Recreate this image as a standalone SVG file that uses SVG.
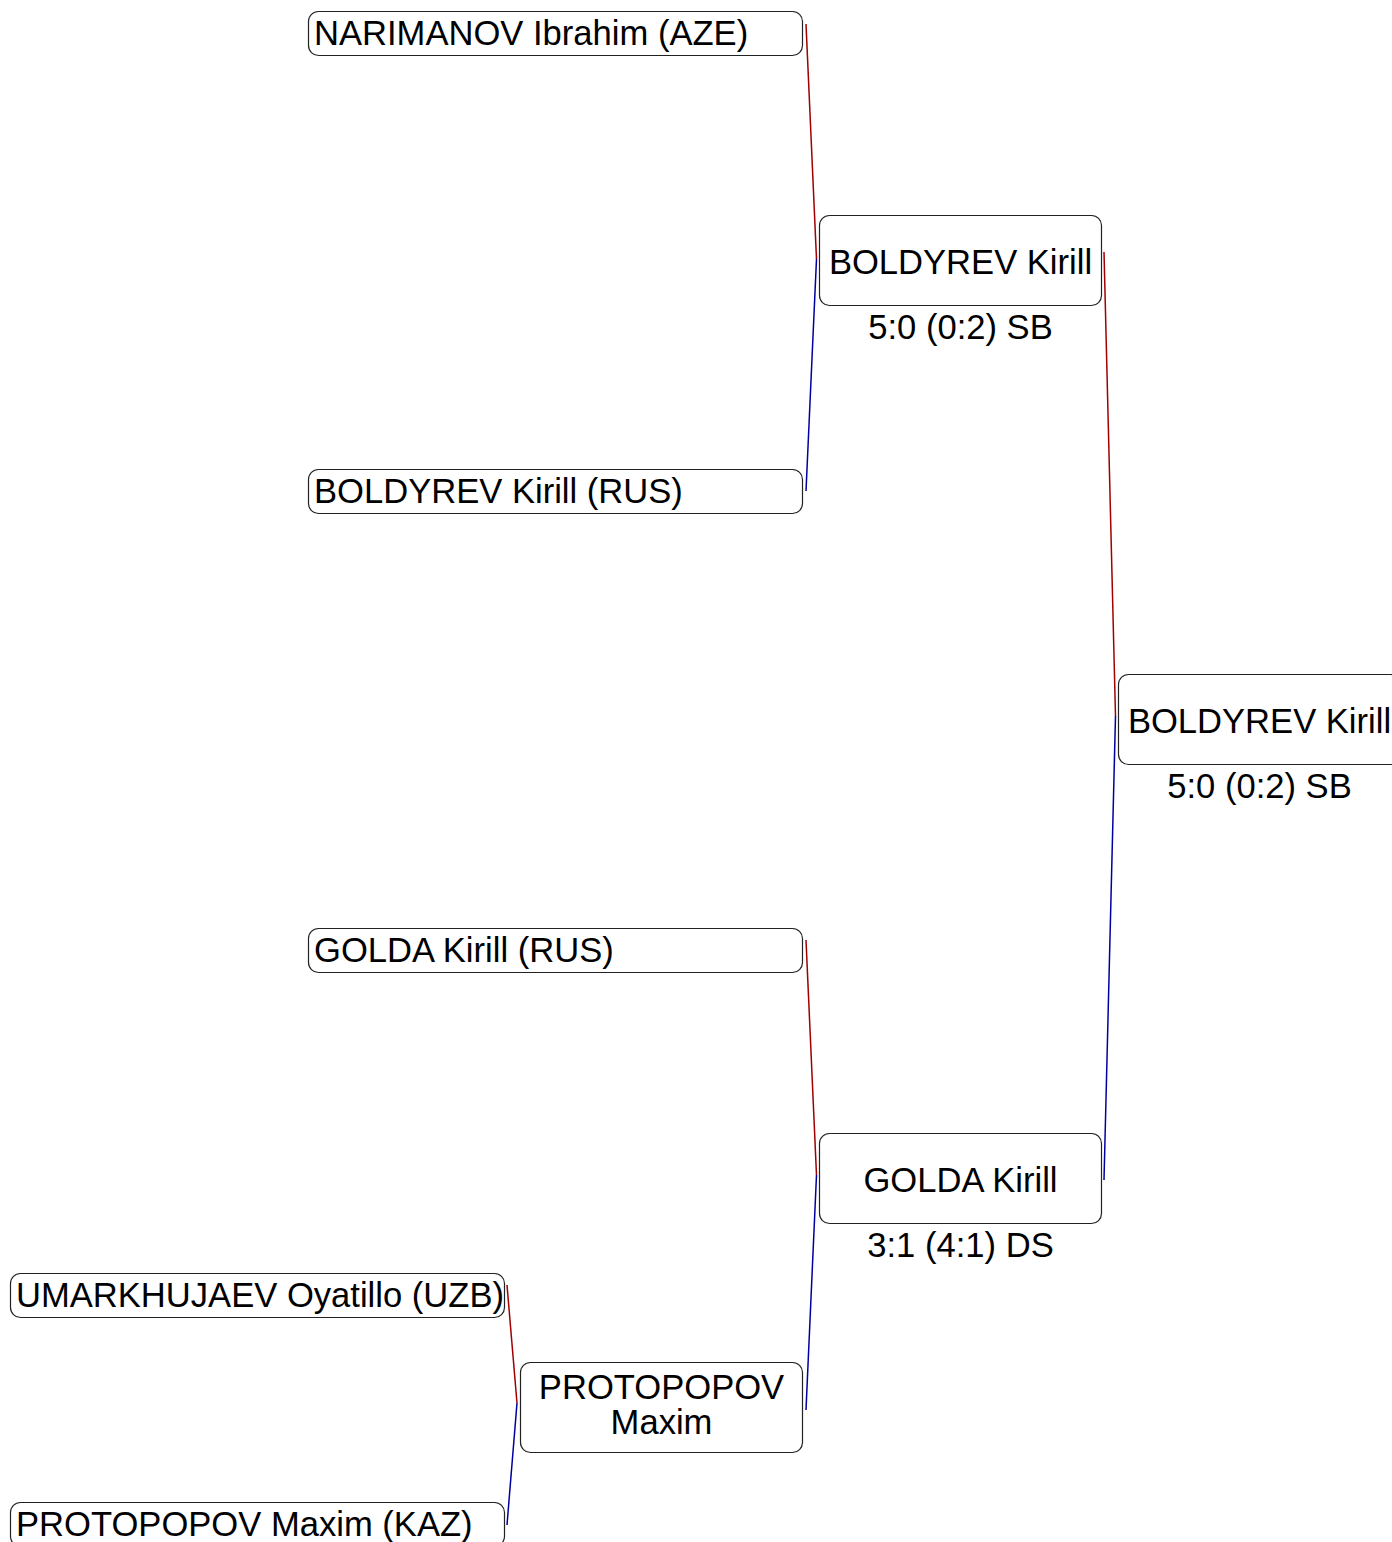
<svg xmlns="http://www.w3.org/2000/svg" width="1392" height="1542" viewBox="0 0 1392 1542">
<style>
.box{fill:#fff;stroke:#222;stroke-width:1.2}
.t{font-family:"Liberation Sans",Arial,sans-serif;font-size:34.6px;fill:#000}
.c{text-anchor:middle}
.red{stroke:#a00000;stroke-width:1.5;fill:none}
.blue{stroke:#0000a0;stroke-width:1.5;fill:none}
</style>
<rect width="1392" height="1542" fill="#fff"/>
<g id="connectors">
<line class="red" x1="806" y1="24" x2="816.5" y2="259"/>
<line class="blue" x1="816.5" y1="259" x2="806" y2="491"/>
<line class="red" x1="806" y1="940" x2="816.5" y2="1175"/>
<line class="blue" x1="816.5" y1="1175" x2="806" y2="1410"/>
<line class="red" x1="507" y1="1285" x2="517" y2="1403"/>
<line class="blue" x1="517" y1="1403" x2="507" y2="1525"/>
<line class="red" x1="1104" y1="252" x2="1115.5" y2="716"/>
<line class="blue" x1="1115.5" y1="716" x2="1104" y2="1180"/>
</g>
<g id="n-narimanov">
<rect class="box" x="308.5" y="11.5" width="494" height="44" rx="10"/>
<text class="t" x="314" y="45">NARIMANOV Ibrahim (AZE)</text>
</g>
<g id="n-boldyrev-r1">
<rect class="box" x="308.5" y="469.5" width="494" height="44" rx="10"/>
<text class="t" x="314" y="503">BOLDYREV Kirill (RUS)</text>
</g>
<g id="n-golda-r1">
<rect class="box" x="308.5" y="928.5" width="494" height="44" rx="10"/>
<text class="t" x="314" y="962">GOLDA Kirill (RUS)</text>
</g>
<g id="n-umarkhujaev">
<rect class="box" x="10.5" y="1273.5" width="494" height="44" rx="10"/>
<text class="t" x="16" y="1307">UMARKHUJAEV Oyatillo (UZB)</text>
</g>
<g id="n-protopopov-r1">
<rect class="box" x="10.5" y="1502.5" width="494" height="44" rx="10"/>
<text class="t" x="16" y="1536">PROTOPOPOV Maxim (KAZ)</text>
</g>
<g id="n-protopopov-r2">
<rect class="box" x="520.5" y="1362.5" width="282" height="90" rx="10"/>
<text class="t c" x="661.5" y="1399">PROTOPOPOV</text>
<text class="t c" x="661.5" y="1434">Maxim</text>
</g>
<g id="n-boldyrev-r2">
<rect class="box" x="819.5" y="215.5" width="282" height="90" rx="10"/>
<text class="t c" x="960.5" y="274">BOLDYREV Kirill</text>
<text class="t c" x="960.5" y="339">5:0 (0:2) SB</text>
</g>
<g id="n-golda-r2">
<rect class="box" x="819.5" y="1133.5" width="282" height="90" rx="10"/>
<text class="t c" x="960.5" y="1192">GOLDA Kirill</text>
<text class="t c" x="960.5" y="1257">3:1 (4:1) DS</text>
</g>
<g id="n-boldyrev-final">
<rect class="box" x="1118.5" y="674.5" width="282" height="90" rx="10"/>
<text class="t c" x="1259.5" y="733">BOLDYREV Kirill</text>
<text class="t c" x="1259.5" y="798">5:0 (0:2) SB</text>
</g>
</svg>
